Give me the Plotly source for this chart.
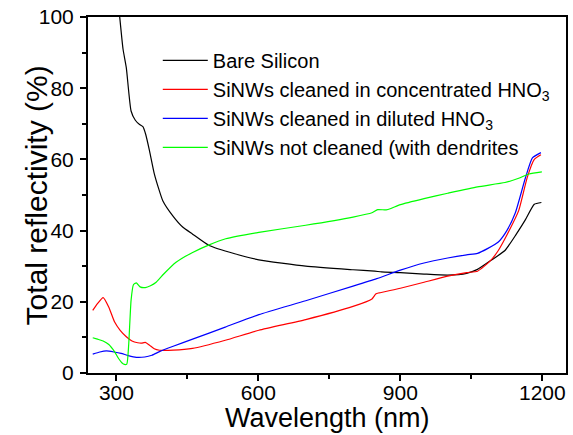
import plotly.graph_objects as go

# Bare Silicon
bare_x = [300, 307, 314, 321, 331, 340, 349, 356, 362, 370, 380, 390, 398, 420, 440, 461, 496, 550, 601,
          700, 800, 846, 860, 900, 950, 1000, 1040, 1063, 1090, 1121, 1145, 1164, 1183, 1198]
bare_y = [110, 100, 91, 85.7, 73.6, 71, 69.8, 69.2, 67, 62.4, 56, 51.5, 48.4, 44, 41, 39, 35.8, 33.5, 31.8,
          30, 29, 28.6, 28.4, 28.2, 27.8, 27.5, 28, 29.1, 31.5, 34.4, 39, 43, 47.4, 47.9]

# SiNWs cleaned in concentrated HNO3
conc_x = [250, 260, 272, 284, 296, 308, 321, 333, 345, 353, 361, 370, 380, 391, 420, 461, 530, 601,
          700, 800, 840, 848, 855, 900, 950, 1000, 1040, 1063, 1090, 1107, 1130, 1150, 1168, 1183, 1197]
conc_y = [17.6, 19.5, 21.2, 18.5, 14.4, 12, 10.2, 9, 8.5, 8.4, 8.6, 7.8, 6.8, 6.4, 6.4, 6.9, 9.2, 12.0,
          15, 18.7, 20.8, 22.2, 22.5, 23.8, 25.5, 27.2, 28.2, 28.6, 31.5, 34.4, 40, 45.6, 54.9, 60, 61.3]

# SiNWs cleaned in diluted HNO3
dil_x = [250, 265, 279, 295, 310, 325, 342, 360, 375, 391, 420, 461, 530, 601, 700, 800, 850, 900, 950,
         1000, 1040, 1063, 1085, 1107, 1125, 1143, 1164, 1179, 1197]
dil_y = [5.3, 5.9, 6.2, 5.9, 5.5, 4.9, 4.4, 4.5, 5.0, 6.0, 7.5, 9.5, 12.9, 16.4, 20.3, 24.4, 26.5, 28.9, 30.9,
         32.3, 33.2, 33.6, 35, 36.8, 40, 45, 54.7, 60.4, 61.9]

# SiNWs not cleaned (with dendrites)
unc_x = [250, 260, 272, 284, 296, 305, 312, 317, 322, 326, 331, 336, 342, 350, 361, 372, 384, 400, 426,
         460, 496, 531, 601, 700, 800, 840, 852, 870, 880, 900, 950, 1000, 1063, 1121, 1150, 1172, 1199]
unc_y = [9.9, 9.5, 9.0, 8.0, 6.0, 4.0, 2.8, 2.4, 2.5, 8, 20.4, 24.8, 25.3, 24.2, 24.0, 24.5, 25.5, 27.8, 31.1,
         33.8, 36, 37.7, 39.5, 41.5, 43.8, 45, 45.9, 45.8, 46.2, 47.3, 49, 50.5, 52.3, 53.5, 54.7, 55.9, 56.5]

names = ["Bare Silicon",
         "SiNWs cleaned in concentrated HNO<sub>3</sub>",
         "SiNWs cleaned in diluted HNO<sub>3</sub>",
         "SiNWs not cleaned (with dendrites"]
colors = ["#000000", "#ff0000", "#0000ff", "#00ff00"]
series = [(bare_x, bare_y), (conc_x, conc_y), (dil_x, dil_y), (unc_x, unc_y)]

fig = go.Figure()
for (xs, ys), n, c in zip(series, names, colors):
    fig.add_trace(go.Scatter(x=xs, y=ys, mode="lines", name=n,
                             line=dict(color=c, width=1.2, shape="spline", smoothing=0.5)))

FONT = "Arial, 'Liberation Sans', sans-serif"
axis_common = dict(showline=True, linecolor="black", linewidth=2, mirror=True,
                   ticks="outside", ticklen=6, tickwidth=2, tickcolor="black",
                   showgrid=False, zeroline=False,
                   tickfont=dict(family=FONT, size=21, color="black"))

fig.update_xaxes(range=[240, 1250], tick0=300, dtick=300, ticklabelstandoff=-6,
                 minor=dict(ticks="outside", ticklen=4, tickwidth=2, tickcolor="black", dtick=150, tick0=300),
                 **axis_common)
fig.update_yaxes(range=[0, 100], tick0=0, dtick=20, ticklabelstandoff=2,
                 minor=dict(ticks="outside", ticklen=4, tickwidth=2, tickcolor="black", dtick=10),
                 **axis_common)

# axis titles placed as annotations to match the original's tight spacing
fig.add_annotation(text="Wavelength (nm)", xref="paper", yref="paper", x=0.5, y=-0.125,
                   xanchor="center", yanchor="middle", showarrow=False,
                   font=dict(family=FONT, size=27, color="black"))
fig.add_annotation(text="Total reflectivity (%)", xref="paper", yref="paper", x=-0.108, y=0.5,
                   xanchor="center", yanchor="middle", showarrow=False, textangle=-90,
                   font=dict(family=FONT, size=30, color="black"))

fig.update_layout(width=573, height=435,
                  margin=dict(l=88, r=5, t=15, b=62),
                  paper_bgcolor="white", plot_bgcolor="white",
                  font=dict(family=FONT, color="black"),
                  legend=dict(x=0.146, y=0.933, xanchor="left", yanchor="top",
                              bgcolor="rgba(0,0,0,0)", font=dict(family=FONT, size=20, color="black"),
                              tracegroupgap=0, itemwidth=45))

fig.write_html("out.html", config={"displayModeBar": False},
               post_script="document.body.style.margin='0';document.body.style.overflow='hidden';")
